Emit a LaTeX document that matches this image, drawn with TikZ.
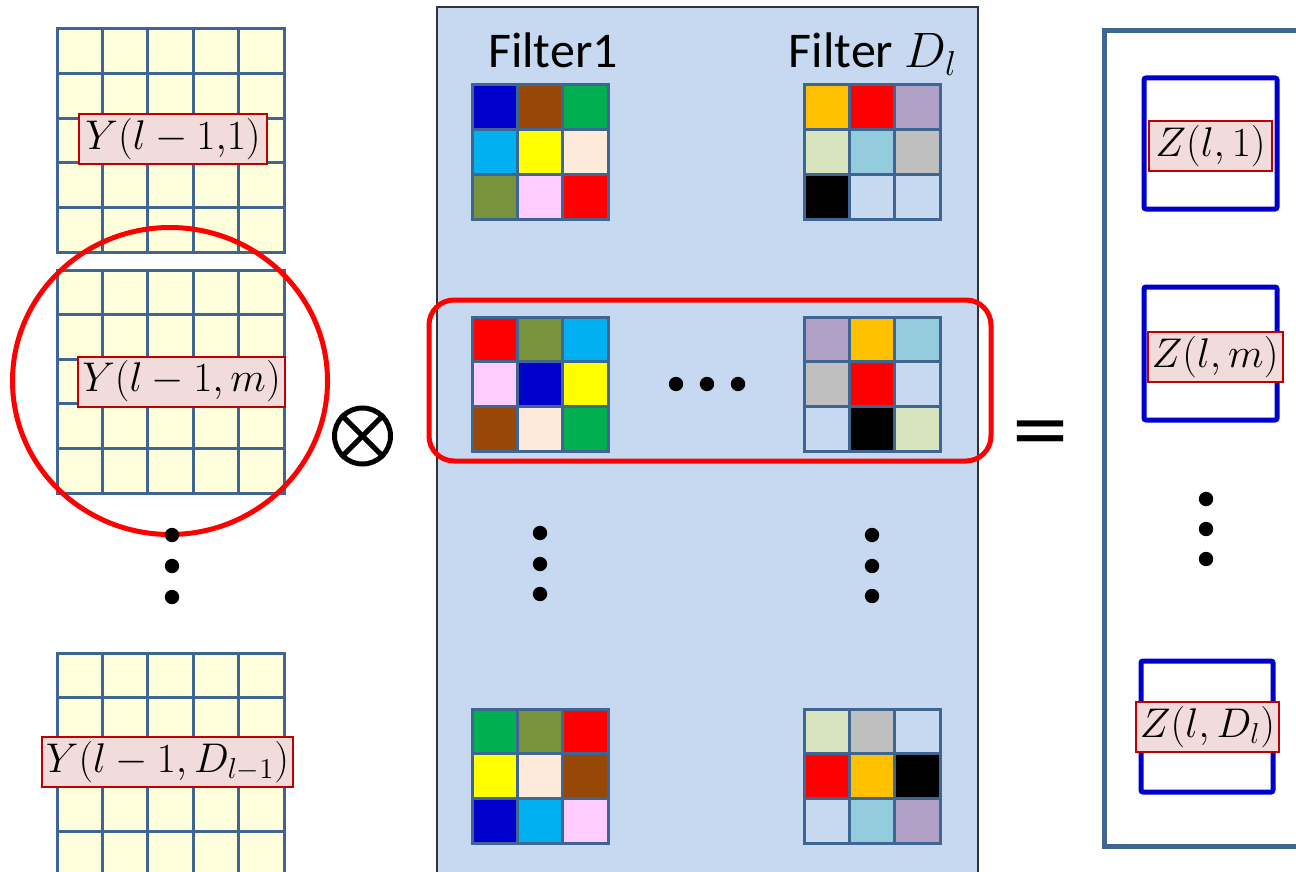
\documentclass[tikz,border=0pt]{standalone}
\usepackage{fontspec}
\setmainfont{Carlito}
\newfontfamily\dejavu{DejaVu Sans}
\definecolor{cellfill}{HTML}{FFFFDB}
\definecolor{gridln}{HTML}{3F6592}
\definecolor{panelbg}{HTML}{C6D9F1}
\definecolor{lblbg}{HTML}{F2DCDB}
\definecolor{lblbd}{HTML}{C00000}
\definecolor{zblue}{HTML}{0000CC}
\definecolor{fblue}{HTML}{0000CC}
\definecolor{fbrown}{HTML}{974806}
\definecolor{fgreen}{HTML}{00B050}
\definecolor{flblue}{HTML}{00B0F0}
\definecolor{fyellow}{HTML}{FFFF00}
\definecolor{fpeach}{HTML}{FDEADA}
\definecolor{folive}{HTML}{77933C}
\definecolor{fpink}{HTML}{FFCCFF}
\definecolor{fred}{HTML}{FF0000}
\definecolor{forange}{HTML}{FFC000}
\definecolor{flav}{HTML}{B2A1C7}
\definecolor{fpgreen}{HTML}{D7E4BD}
\definecolor{fcyan}{HTML}{93CDDD}
\definecolor{fgray}{HTML}{BFBFBF}
\definecolor{fblack}{HTML}{000000}
\colorlet{fnone}{panelbg}
\newcommand\fgrid[3]{%
  \foreach \c [count=\k from 0] in {#3} {
    \pgfmathtruncatemacro\rr{\k/3}
    \pgfmathtruncatemacro\cc{mod(\k,3)}
    \fill[fill=\c] ({#1+\cc*45.4},{#2+\rr*44.7}) rectangle ++(45.4,44.7);
  }
  \foreach \i in {0,...,3} {
    \draw[gridstroke] ({#1+\i*45.4},#2) -- ++(0,134.1);
    \draw[gridstroke] (#1,{#2+\i*44.7}) -- ++(136.2,0);
  }
}
\begin{document}
\begin{tikzpicture}[x=0.5pt,y=-0.5pt,
  gridstroke/.style={draw=gridln, line width=1.5pt, line cap=rect},
  lbl/.style={draw=lblbd, fill=lblbg, line width=1pt, inner xsep=2pt, inner ysep=0pt,
    minimum height=25pt, font=\fontsize{20}{24}\selectfont},
  redln/.style={draw=fred, line width=2.5pt},
  zbox/.style={draw=zblue, line width=2.5pt, rounded corners=1pt},
  dot/.style={fill=black}]
\clip (0,0) rectangle (1296,872);
\fill[white] (0,0) rectangle (1296,872);

% ---------- middle panel ----------
\draw[draw=black!80, line width=0.6pt, fill=panelbg] (437,7) rectangle (978,900);
\node[anchor=base] (f1) at (553,68) {\fontsize{25}{30}\selectfont Filter1};
\node[anchor=base] (fd) at (873,68) {\fontsize{25}{30}\selectfont Filter $D_l$};

\fgrid{472}{85}{fblue,fbrown,fgreen,flblue,fyellow,fpeach,folive,fpink,fred}
\fgrid{804}{85}{forange,fred,flav,fpgreen,fcyan,fgray,fblack,fnone,fnone}
\fgrid{472}{317}{fred,folive,flblue,fpink,fblue,fyellow,fbrown,fpeach,fgreen}
\fgrid{804}{317}{flav,forange,fcyan,fgray,fred,fnone,fnone,fblack,fpgreen}
\fgrid{472}{709}{fgreen,folive,fred,fyellow,fpeach,fbrown,fblue,flblue,fpink}
\fgrid{804}{709}{fpgreen,fgray,fnone,fred,forange,fblack,fnone,fcyan,flav}

\draw[redln, rounded corners=12.5pt] (429,300) rectangle (991,461);
\foreach \x in {676,707,738} \fill[dot] (\x,384) circle[radius=3.6pt];
\foreach \y in {533,564,594} {
  \fill[dot] (540,\y) circle[radius=3.6pt];
  \fill[dot] (872,{\y+2}) circle[radius=3.6pt];
}

% ---------- left input maps ----------
\foreach \gy in {29,270,653} {
  \fill[cellfill] (57,\gy) rectangle ++(227,223);
  \foreach \i in {0,...,5} \draw[gridstroke] ({57+\i*45.4},\gy) -- ++(0,223);
  \foreach \j in {0,...,5} \draw[gridstroke] (57,{\gy+\j*44.6}) -- ++(227,0);
}
\node[lbl, minimum width=94pt] (y1) at (173,139) {$Y(l-1{,}1)$};
\node[lbl, minimum width=103.5pt] (ym) at (181.5,381.5) {$Y(l-1,m)$};
\node[lbl, minimum width=125.5pt] (yd) at (167.5,762) {$Y(l-1,D_{l-1})$};

\draw[redln] (170,381) ellipse [x radius=78.75pt, y radius=76.75pt];
\foreach \y in {535,566,597} \fill[dot] (172,\y) circle[radius=3.6pt];

\node[circle, draw=black, line width=2.5pt, minimum size=28pt, inner sep=0pt] (ot) at (362.5,436) {};
\draw[line width=2.5pt] (ot.north east) -- (ot.south west);
\draw[line width=2.5pt] (ot.north west) -- (ot.south east);

% ---------- equals ----------
\node (eq) at (1040,438) {\dejavu\fontsize{37}{40}\selectfont =};

% ---------- right output maps ----------
\draw[draw=gridln, line width=2.5pt] (1104,31) rectangle (1340,846);
\draw[zbox] (1144,78) rectangle (1277,209);
\draw[zbox] (1144,287) rectangle (1277,420);
\draw[zbox] (1141,661) rectangle (1273,792);
\node[lbl, minimum width=61.5pt] (z1) at (1210.5,146.5) {$Z(l,1)$};
\node[lbl, minimum width=67.5pt] (zm) at (1215,357) {$Z(l,m)$};
\node[lbl, minimum width=69.5pt] (zd) at (1207.5,727) {$Z(l,D_l)$};
\foreach \y in {499,529,559} \fill[dot] (1206,\y) circle[radius=3.6pt];
\end{tikzpicture}
\end{document}
